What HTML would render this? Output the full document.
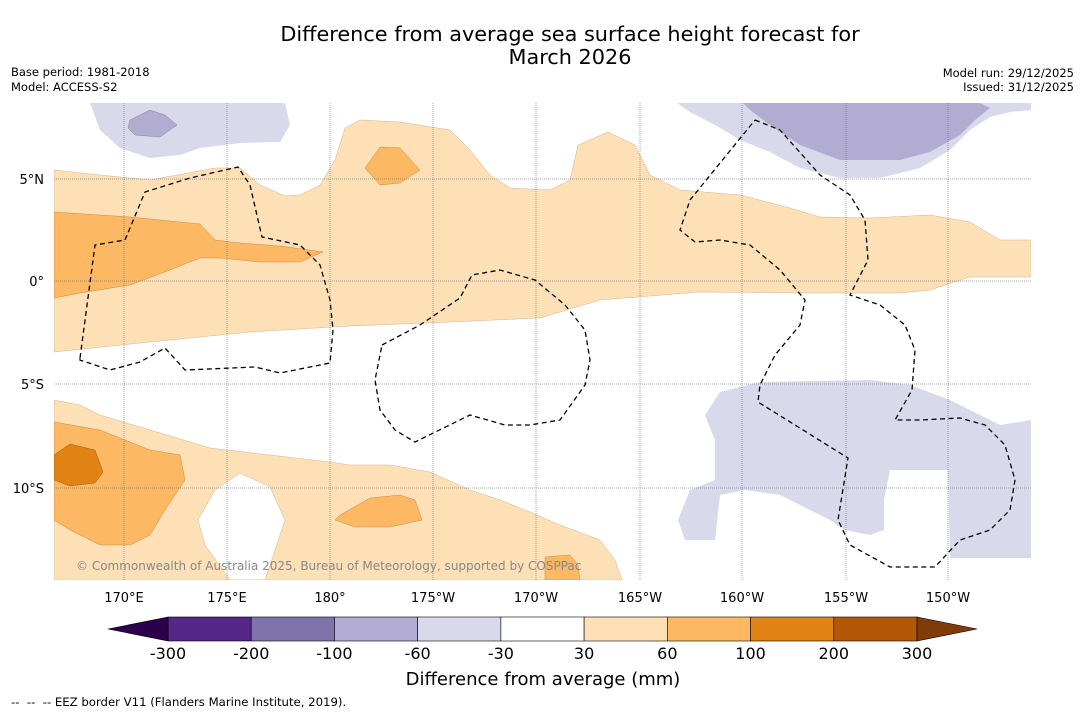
<!DOCTYPE html>
<html><head><meta charset="utf-8">
<style>
body{margin:0;background:#fff;font-family:"Liberation Sans",sans-serif;}
svg text{font-family:"DejaVu Sans","Liberation Sans",sans-serif;}
</style></head>
<body>
<svg width="1085" height="713" viewBox="0 0 1085 713">
<rect width="1085" height="713" fill="#fff"/>
<text x="570" y="41" font-size="20.8" text-anchor="middle">Difference from average sea surface height forecast for</text>
<text x="570" y="64" font-size="20.8" text-anchor="middle">March 2026</text>
<text x="11" y="76" font-size="11.5">Base period: 1981-2018</text>
<text x="11" y="91" font-size="11.5">Model: ACCESS-S2</text>
<text x="1074" y="77" font-size="11.5" text-anchor="end">Model run: 29/12/2025</text>
<text x="1074" y="91" font-size="11.5" text-anchor="end">Issued: 31/12/2025</text>

<g id="map">
<clipPath id="clip"><rect x="54" y="103" width="977" height="477"/></clipPath>
<g clip-path="url(#clip)">
<rect x="54" y="103" width="977" height="477" fill="#fff"/>
<path fill="#fee0b6" stroke="#c9a27a" stroke-width="0.4" d="M54,170 L100,175 150,180 215,168 240,168 260,185 285,196 300,195 320,185 335,160 345,128 360,120 400,122 450,130 470,150 490,175 510,188 550,190 570,180 578,145 608,132 635,145 650,175 680,190 740,195 790,208 820,217 870,218 930,215 970,222 1000,240 1031,240 1031,277 970,277 930,290 900,293 800,293 700,292 600,300 540,318 450,322 350,326 250,332 150,342 54,352Z"/>
<path fill="#fdb863" stroke="#b57a3a" stroke-width="0.4" d="M54,212 L130,217 200,224 215,240 240,243 280,246 323,252 300,262 260,262 220,258 200,258 170,270 130,285 80,293 54,298Z"/>
<path fill="#fdb863" stroke="#b57a3a" stroke-width="0.4" d="M380,147 L400,148 420,170 400,183 380,185 365,168Z"/>
<path fill="#fee0b6" stroke="#c9a27a" stroke-width="0.4" fill-rule="evenodd" d="M54,400 L80,405 100,415 150,430 210,448 270,455 330,462 350,465 390,465 430,472 470,490 500,500 530,512 560,525 600,540 615,560 622,580 54,580Z M240,473 L270,487 285,520 275,550 265,580 230,580 205,545 198,520 215,490Z"/>
<path fill="#fdb863" stroke="#b57a3a" stroke-width="0.4" d="M54,422 L100,430 150,450 180,455 185,480 165,510 150,535 130,545 100,545 70,530 54,520Z"/>
<path fill="#e08214" stroke="#8a5010" stroke-width="0.4" d="M54,455 L70,444 95,450 103,472 95,483 70,486 54,480Z"/>
<path fill="#fdb863" stroke="#b57a3a" stroke-width="0.4" d="M340,515 L370,498 400,495 415,500 422,520 390,527 355,527 335,520Z"/>
<path fill="#fdb863" stroke="#b57a3a" stroke-width="0.4" d="M545,557 L570,555 578,565 580,580 545,580Z"/>
<path fill="#d8daeb" d="M90,103 L285,103 290,125 280,142 240,143 200,148 180,155 150,158 120,148 100,130Z"/>
<path fill="#b2abd2" stroke="#777" stroke-width="0.4" d="M130,120 L150,110 165,115 177,125 160,137 135,135 128,128Z"/>
<path fill="#d8daeb" d="M677,103 L1031,103 1031,110 1010,112 990,117 970,130 950,150 920,168 880,178 840,178 800,168 770,152 740,140 715,125 690,112Z"/>
<path fill="#b2abd2" d="M743,103 L1031,103 1031,106 1000,110 975,120 960,135 930,152 900,160 840,160 800,145 770,125 750,110Z"/>
<path fill="#d8daeb" d="M980,103 L1031,103 1031,110 1000,112 985,118 975,120 990,108Z"/>
<path fill="#d8daeb" d="M720,392 L760,382 870,380 910,385 950,400 980,415 1000,425 1031,420 1031,558 950,558 948,470 890,470 884,500 884,530 870,535 845,530 830,520 810,510 780,495 745,490 720,495 715,540 685,540 678,520 690,490 715,480 715,440 705,415Z"/>
<g stroke="#555" stroke-width="0.5" stroke-dasharray="1,1">
<line x1="124" y1="103" x2="124" y2="580"/><line x1="227" y1="103" x2="227" y2="580"/><line x1="330" y1="103" x2="330" y2="580"/><line x1="433" y1="103" x2="433" y2="580"/><line x1="536" y1="103" x2="536" y2="580"/><line x1="640" y1="103" x2="640" y2="580"/><line x1="742" y1="103" x2="742" y2="580"/><line x1="846" y1="103" x2="846" y2="580"/><line x1="948" y1="103" x2="948" y2="580"/>
<line x1="54" y1="179" x2="1031" y2="179"/><line x1="54" y1="281" x2="1031" y2="281"/><line x1="54" y1="384" x2="1031" y2="384"/><line x1="54" y1="488" x2="1031" y2="488"/>
</g>
<g fill="none" stroke="#000" stroke-width="1.3" stroke-dasharray="5,3.5">
<path d="M80,358 L95,245 125,240 145,192 190,178 238,167 250,185 262,237 300,245 320,265 330,300 333,330 330,363 280,373 255,367 185,370 165,348 140,362 110,370 80,360Z"/>
<path d="M382,345 L420,325 460,298 472,275 500,270 535,280 565,305 585,330 590,360 585,385 560,420 530,425 505,425 470,415 415,442 395,430 380,410 375,380Z"/>
<path d="M755,120 L780,130 820,175 850,195 865,220 868,260 850,295 880,305 905,325 915,350 912,390 895,420 920,420 960,418 985,425 1005,445 1015,480 1010,510 990,530 960,540 935,567 890,567 850,545 838,520 848,458 758,402 760,385 775,355 800,325 805,300 780,270 750,245 720,240 695,242 680,230 690,200 755,120"/>
</g>
<text x="76" y="570" font-size="12" fill="#888">© Commonwealth of Australia 2025, Bureau of Meteorology, supported by COSPPac</text>
</g>
</g>
<g font-size="13" text-anchor="middle">
<text x="124" y="602">170°E</text><text x="227" y="602">175°E</text><text x="330" y="602">180°</text><text x="433" y="602">175°W</text><text x="536" y="602">170°W</text><text x="640" y="602">165°W</text><text x="742" y="602">160°W</text><text x="846" y="602">155°W</text><text x="948" y="602">150°W</text>
</g>
<g font-size="13" text-anchor="end">
<text x="44" y="184">5°N</text><text x="44" y="286">0°</text><text x="44" y="389">5°S</text><text x="44" y="493">10°S</text>
</g>
<g id="colorbar"></g>
<text x="543" y="685" font-size="18" text-anchor="middle">Difference from average (mm)</text>
<text x="11" y="706" font-size="11.7" xml:space="preserve">--  --  -- EEZ border V11 (Flanders Marine Institute, 2019).</text>
</svg>
<script>
const bins = ["-300","-200","-100","-60","-30","30","60","100","200","300"];
const binColors = ["#542788","#8073ac","#b2abd2","#d8daeb","#ffffff","#fee0b6","#fdb863","#e08214","#b35806"];
const ns="http://www.w3.org/2000/svg";
const cb=document.getElementById('colorbar');
const x0=168,x1=917,y=617,h=24;
const w=(x1-x0)/(bins.length-1);
function cx(i){return x0+i*w;}
binColors.forEach((c,i)=>{
  const r=document.createElementNS(ns,'rect');
  r.setAttribute('x',cx(i));r.setAttribute('y',y);r.setAttribute('width',w);r.setAttribute('height',h);
  r.setAttribute('fill',c);r.setAttribute('stroke','#000');r.setAttribute('stroke-width','0.6');
  
  
  cb.appendChild(r);
});
const lt=document.createElementNS(ns,'polygon');
lt.setAttribute('points',`${x0},${y} ${x0-60},${y+h/2} ${x0},${y+h}`);
lt.setAttribute('fill','#2d004b');lt.setAttribute('stroke','#000');lt.setAttribute('stroke-width','0.6');


cb.appendChild(lt);
const rt=document.createElementNS(ns,'polygon');
rt.setAttribute('points',`${x1},${y} ${x1+60},${y+h/2} ${x1},${y+h}`);
rt.setAttribute('fill','#7f3b08');rt.setAttribute('stroke','#000');rt.setAttribute('stroke-width','0.6');


cb.appendChild(rt);
bins.forEach((b,i)=>{
  const t=document.createElementNS(ns,'text');
  t.setAttribute('x',cx(i));t.setAttribute('y',659);t.setAttribute('font-size','16');t.setAttribute('text-anchor','middle');
  t.textContent=b;
  
  
  cb.appendChild(t);
});
</script>
</body></html>
